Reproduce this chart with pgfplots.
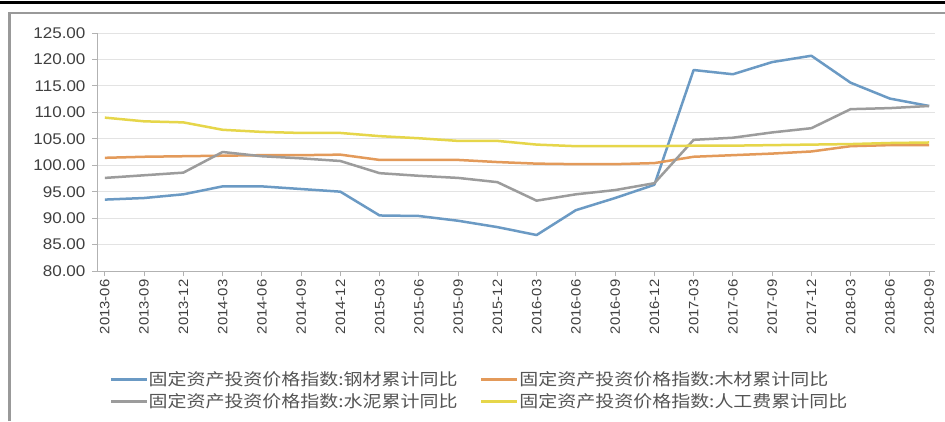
\documentclass[border=0pt]{standalone}
\usepackage{pgfplots}
\pgfplotsset{compat=1.18}
\usepackage{pgfplotstable}
\usepackage{fontspec}
\setmainfont{Liberation Sans}[FakeStretch=1.1]
\newfontfamily\cjk{Noto Sans CJK SC}[FakeStretch=1.15]
\definecolor{cblue}{HTML}{6B9AC4}
\definecolor{corange}{HTML}{E39A5A}
\definecolor{cgray}{HTML}{9C9C9C}
\definecolor{cyellow}{HTML}{E6D64A}
\definecolor{txt}{HTML}{404040}
\definecolor{ltxt}{HTML}{555555}
\pgfplotstableread{
i steel wood cement labor
0 93.5 101.4 97.6 109.0
1 93.8 101.6 98.1 108.3
2 94.5 101.7 98.6 108.1
3 96.0 101.8 102.5 106.7
4 96.0 101.9 101.7 106.3
5 95.5 101.9 101.3 106.1
6 95.0 102.0 100.8 106.1
7 90.5 101.0 98.5 105.5
8 90.4 101.0 98.0 105.1
9 89.5 101.0 97.6 104.6
10 88.3 100.6 96.8 104.6
11 86.8 100.3 93.3 103.9
12 91.5 100.2 94.5 103.6
13 93.8 100.2 95.3 103.6
14 96.3 100.4 96.6 103.6
15 118.0 101.6 104.8 103.7
16 117.2 101.9 105.2 103.7
17 119.5 102.2 106.2 103.8
18 120.7 102.6 107.0 103.9
19 115.6 103.6 110.6 104.0
20 112.6 103.8 110.8 104.2
21 111.2 103.8 111.2 104.3
}\data
\begin{document}
\begin{tikzpicture}
\useasboundingbox (0pt,0pt) rectangle (945pt,421pt);
\fill[white] (0pt,0pt) rectangle (945pt,421pt);
\draw[black, line width=3pt] (0pt,418pt) -- (945pt,418pt);
\draw[gray!80, line width=2.5pt] (9.5pt,0pt) -- (9.5pt,408pt) -- (945pt,408pt);
\begin{axis}[
  at={(97pt,150pt)}, anchor=south west,
  scale only axis, width=838pt, height=238pt,
  xmin=-0.2, xmax=21.15, ymin=80, ymax=125,
  ytick={80,85,...,125},
  yticklabel={\pgfmathprintnumber[fixed,fixed zerofill,precision=2]{\tick}},
  /pgf/number format/assume math mode=true,
  xtick={0,...,21},
  xticklabels={2013-06,2013-09,2013-12,2014-03,2014-06,2014-09,2014-12,2015-03,2015-06,2015-09,2015-12,2016-03,2016-06,2016-09,2016-12,2017-03,2017-06,2017-09,2017-12,2018-03,2018-06,2018-09},
  x tick label style={rotate=90, anchor=east, font=\fontsize{13.5}{14}\selectfont, text=txt},
  y tick label style={font=\fontsize{15.5}{17}\selectfont, text=txt, xshift=-3pt},
  ymajorgrids, grid style={gray!22, line width=0.8pt},
  axis x line*=bottom, axis y line*=left,
  axis line style={gray!60, line width=0.8pt},
  tick style={gray!60, line width=0.8pt},
  major tick length=5pt,
  tick align=outside,
  legend columns=2,
  legend cell align=left,
  legend style={at={(0.016,-0.415)}, anchor=north west, draw=none, fill=none,
    font=\cjk\fontsize{16.5}{19}\selectfont, text=ltxt, inner sep=0pt,
    /tikz/every even column/.append style={column sep=22pt},
    row sep=2pt},
  legend image code/.code={\path[#1, draw=none, fill] (0pt,-1.4pt) rectangle (36pt,1.4pt);},
]
\addplot[cblue, mark=none, line width=2.5pt, line join=round] table[x=i, y=steel] {\data};
\addlegendentry{固定资产投资价格指数:钢材累计同比}
\addplot[corange, mark=none, line width=2.5pt, line join=round] table[x=i, y=wood] {\data};
\addlegendentry{固定资产投资价格指数:木材累计同比}
\addplot[cgray, mark=none, line width=2.5pt, line join=round] table[x=i, y=cement] {\data};
\addlegendentry{固定资产投资价格指数:水泥累计同比}
\addplot[cyellow, mark=none, line width=2.5pt, line join=round] table[x=i, y=labor] {\data};
\addlegendentry{固定资产投资价格指数:人工费累计同比}
\end{axis}
\end{tikzpicture}
\end{document}
